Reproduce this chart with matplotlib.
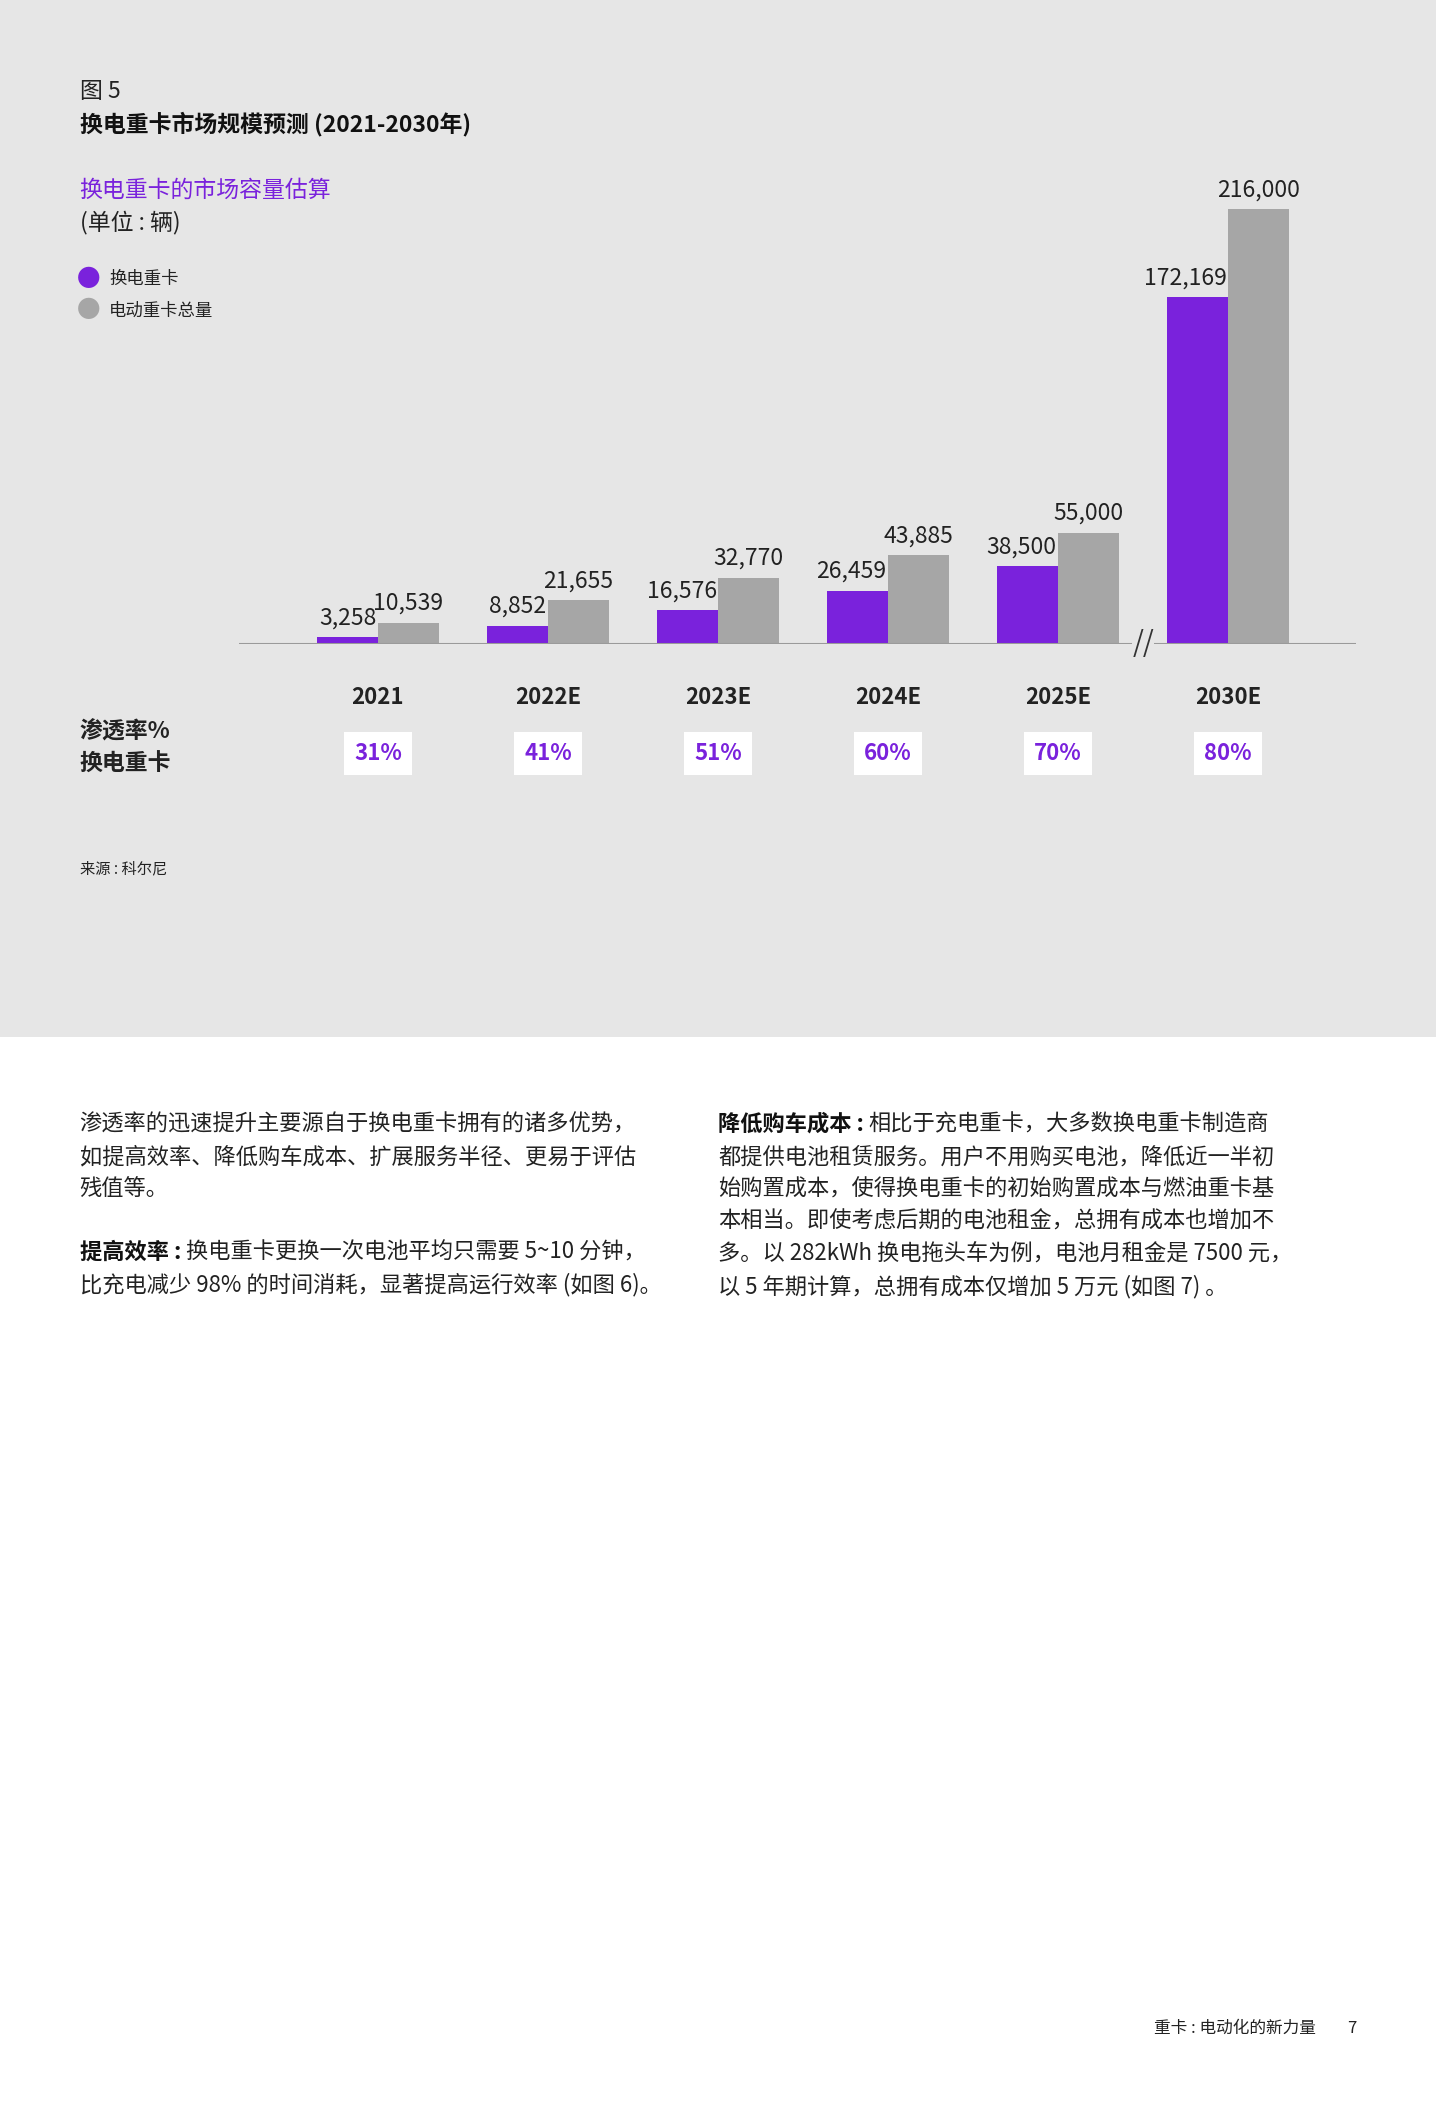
import numpy as np
import matplotlib.pyplot as plt
import matplotlib.transforms as mtransforms
from matplotlib.patches import Rectangle

plt.rcParams['font.family'] = ['Noto Sans CJK SC', 'DejaVu Sans']

years = ["2021", "2022E", "2023E", "2024E", "2025E", "2030E"]
swap_trucks = [3258, 8852, 16576, 26459, 38500, 172169]
total_trucks = [10539, 21655, 32770, 43885, 55000, 216000]
penetration = ["31%", "41%", "51%", "60%", "70%", "80%"]

PURPLE = "#7A22DC"
GRAY = "#A6A6A6"
BG = "#E6E6E6"

W, H = 1436, 2117
S = W / 1064.0  # layout measured on a 1064-wide view


def fy(d):
    return 1 - d * S / H


def fx(d):
    return d * S / W


fig = plt.figure(figsize=(W / 100, H / 100), dpi=100)
fig.patch.set_facecolor("white")
fig.patches.append(Rectangle((0, fy(768)), 1, 1 - fy(768), transform=fig.transFigure,
                             facecolor=BG, edgecolor="none", zorder=-5))

# chart axes
top_d, base_d = 120, 477
ax = fig.add_axes([fx(177), fy(base_d), fx(1005) - fx(177), fy(top_d) - fy(base_d)])
ax.patch.set_alpha(0)
px_per_unit = (477 - 155) / 216000
ax.set_ylim(0, (base_d - top_d) / px_per_unit)
ax.set_xlim(177, 1005)
pos = 280 + 126 * np.arange(len(years))
bw = 45
ax.bar(pos - bw / 2, swap_trucks, width=bw, color=PURPLE)
ax.bar(pos + bw / 2, total_trucks, width=bw, color=GRAY)
for x, v in zip(pos, swap_trucks):
    ax.text(x - 1, v + 4000, f"{v:,}", ha="right", va="bottom", fontsize=16.5, color="#222222")
for x, v in zip(pos + bw / 2, total_trucks):
    ax.text(x, v + 4000, f"{v:,}", ha="center", va="bottom", fontsize=16.5, color="#222222")
ax.axhline(0, color="#9a9a9a", lw=2.2, zorder=3)
ax.text((pos[4] + pos[5]) / 2, 0, "//", ha="center", va="center", fontsize=20,
        color="#333333", zorder=4, bbox=dict(facecolor=BG, edgecolor="none", pad=0))
ax.axis("off")

tr = mtransforms.blended_transform_factory(ax.transData, fig.transFigure)
for x, y, p in zip(pos, years, penetration):
    fig.text(x, fy(517), y, transform=tr, ha="center", va="center", fontsize=16,
             fontweight="bold", color="#222222")
    fig.text(x, fy(558), p, transform=tr, ha="center", va="center", fontsize=16,
             fontweight="bold", color=PURPLE,
             bbox=dict(facecolor="white", edgecolor="none", boxstyle="square,pad=0.45"))

# titles and legend
fig.text(fx(59), fy(68), "图 5", fontsize=16.5, va="center", color="#222222")
fig.text(fx(59), fy(92), "换电重卡市场规模预测 (2021-2030年)", fontsize=16.5, va="center",
         fontweight="bold", color="#111111")
fig.text(fx(59), fy(141), "换电重卡的市场容量估算", fontsize=16.5, va="center", color=PURPLE)
fig.text(fx(59), fy(165), "(单位 : 辆)", fontsize=16.5, va="center", color="#222222")
for d, lab, c in [(207, "换电重卡", PURPLE), (230, "电动重卡总量", GRAY)]:
    fig.text(fx(66), fy(d), "●", fontsize=17, va="center", ha="center", color=c)
    fig.text(fx(81), fy(d), lab, fontsize=12.5, va="center", color="#222222")
fig.text(fx(59), fy(542), "渗透率%", fontsize=16.5, va="center", fontweight="bold", color="#222222")
fig.text(fx(59), fy(566), "换电重卡", fontsize=16.5, va="center", fontweight="bold", color="#222222")
fig.text(fx(59), fy(644), "来源 : 科尔尼", fontsize=11, va="center", color="#222222")

# body text
renderer = fig.canvas.get_renderer()


def line(xd, yd, txt, bold=None):
    x = fx(xd)
    if bold:
        t = fig.text(x, fy(yd), bold, fontsize=16, va="center", fontweight="bold", color="#111111")
        bb = t.get_window_extent(renderer)
        x = bb.x1 / W
    fig.text(x, fy(yd), txt, fontsize=16, va="center", color="#222222")


left = ["渗透率的迅速提升主要源自于换电重卡拥有的诸多优势，",
        "如提高效率、降低购车成本、扩展服务半径、更易于评估",
        "残值等。"]
for i, t in enumerate(left):
    line(59, 833 + 24 * i, t)
line(59, 928, "换电重卡更换一次电池平均只需要 5~10 分钟，", "提高效率 : ")
line(59, 952, "比充电减少 98% 的时间消耗，显著提高运行效率 (如图 6)。")
right = ["都提供电池租赁服务。用户不用购买电池，降低近一半初",
         "始购置成本，使得换电重卡的初始购置成本与燃油重卡基",
         "本相当。即使考虑后期的电池租金，总拥有成本也增加不",
         "多。以 282kWh 换电拖头车为例，电池月租金是 7500 元，",
         "以 5 年期计算，总拥有成本仅增加 5 万元 (如图 7) 。"]
line(532, 833, "相比于充电重卡，大多数换电重卡制造商", "降低购车成本 : ")
for i, t in enumerate(right):
    line(532, 857 + 24 * i, t)

fig.text(fx(975), fy(1503), "重卡 : 电动化的新力量", fontsize=12, va="center", ha="right", color="#222222")
fig.text(fx(1005), fy(1503), "7", fontsize=12, va="center", ha="right", color="#222222")

fig.savefig("out.png", dpi=100, facecolor=fig.get_facecolor())
